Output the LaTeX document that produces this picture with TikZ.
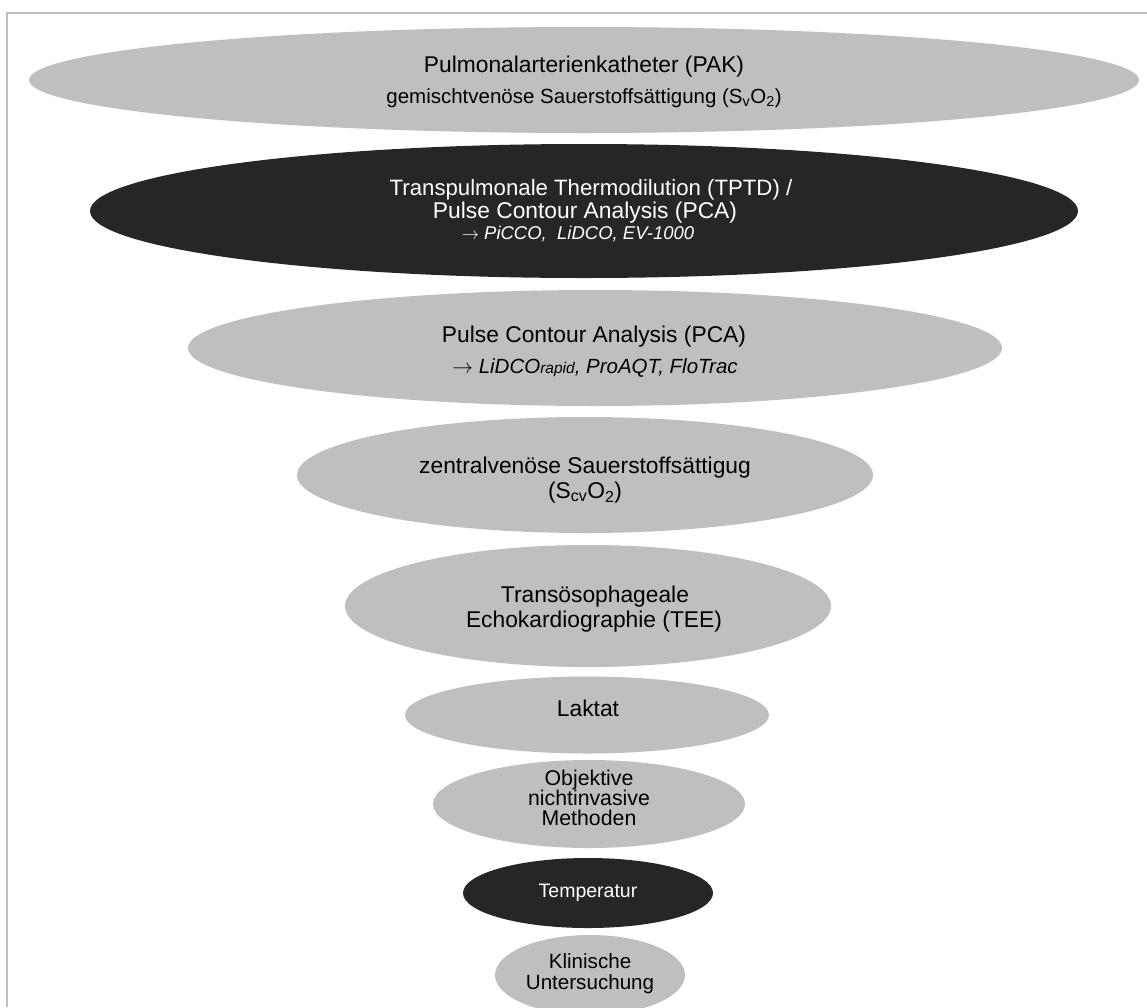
\documentclass[tikz,border=0pt]{standalone}
\usepackage{fontspec}
\setmainfont{Liberation Sans}
\usetikzlibrary{shapes.geometric}
\definecolor{lgray}{HTML}{BFBFBF}
\definecolor{dark}{HTML}{262626}
\definecolor{framegray}{HTML}{C0C0C0}
\newcommand{\fs}[1]{\fontsize{#1}{#1}\selectfont}
\begin{document}
\begin{tikzpicture}[x=1pt,y=-1pt,
  ellg/.style={ellipse, fill=lgray, draw=none, inner sep=0pt},
  elld/.style={ellipse, fill=dark, draw=none, inner sep=0pt},
  lbl/.style={inner sep=0pt, anchor=base, font=\fs{22.8}},
  lblw/.style={lbl, text=white}]
\useasboundingbox (0,0) rectangle (1147,1007);
\fill[white] (0,0) rectangle (1147,1007);
\draw[framegray, line width=2pt] (7,1007) -- (7,13) -- (1147,13);

% ellipses
\node[ellg, minimum width=1110pt, minimum height=106pt] (e1) at (584,80) {};
\node[elld, minimum width=988pt, minimum height=134pt] (e2) at (584,211) {};
\node[ellg, minimum width=814pt, minimum height=116pt] (e3) at (595,348) {};
\node[ellg, minimum width=576pt, minimum height=116pt] (e4) at (585,475) {};
\node[ellg, minimum width=486pt, minimum height=122pt] (e5) at (588,606) {};
\node[ellg, minimum width=364pt, minimum height=77pt] (e6) at (587,715) {};
\node[ellg, minimum width=312pt, minimum height=88pt] (e7) at (589,804) {};
\node[elld, minimum width=250pt, minimum height=70pt] (e8) at (588,893) {};
\node[ellg, minimum width=190pt, minimum height=80pt] (e9) at (590,975) {};

% texts
\node[lbl] (t1a) at (584,72) {Pulmonalarterienkatheter (PAK)};
\node[lbl, font=\fs{20.5}] (t1b) at (584,103) {gemischtvenöse Sauerstoffsättigung (S\textsubscript{v}O\textsubscript{2})};

\node[lblw, font=\fs{22.2}] (t2a) at (591,195) {Transpulmonale Thermodilution (TPTD) /};
\node[lblw] (t2b) at (585,218) {Pulse Contour Analysis (PCA)};
\node[lblw, font=\fs{18.5}\itshape] (t2c) at (578,239) {$\rightarrow$ PiCCO,\ \ LiDCO, EV-1000};

\node[lbl] (t3a) at (594,342) {Pulse Contour Analysis (PCA)};
\node[lbl, font=\fs{20.5}\itshape] (t3b) at (595,373) {$\rightarrow$ LiDCO{\fs{15.5}rapid}, ProAQT, FloTrac};

\node[lbl] (t4a) at (585,473) {zentralvenöse Sauerstoffsättigug};
\node[lbl] (t4b) at (585,498) {(S\textsubscript{cv}O\textsubscript{2})};

\node[lbl] (t5a) at (595,602) {Transösophageale};
\node[lbl] (t5b) at (594,627) {Echokardiographie (TEE)};

\node[lbl] (t6) at (588,716) {Laktat};

\node[lbl, font=\fs{21.3}] (t7a) at (589,785) {Objektive};
\node[lbl, font=\fs{21.3}] (t7b) at (589,805) {nichtinvasive};
\node[lbl, font=\fs{21.3}] (t7c) at (589,825) {Methoden};

\node[lblw, font=\fs{19.5}] (t8) at (588,897) {Temperatur};

\node[lbl, font=\fs{20.6}] (t9a) at (590,968) {Klinische};
\node[lbl, font=\fs{20.6}] (t9b) at (590,989) {Untersuchung};
\end{tikzpicture}
\end{document}
